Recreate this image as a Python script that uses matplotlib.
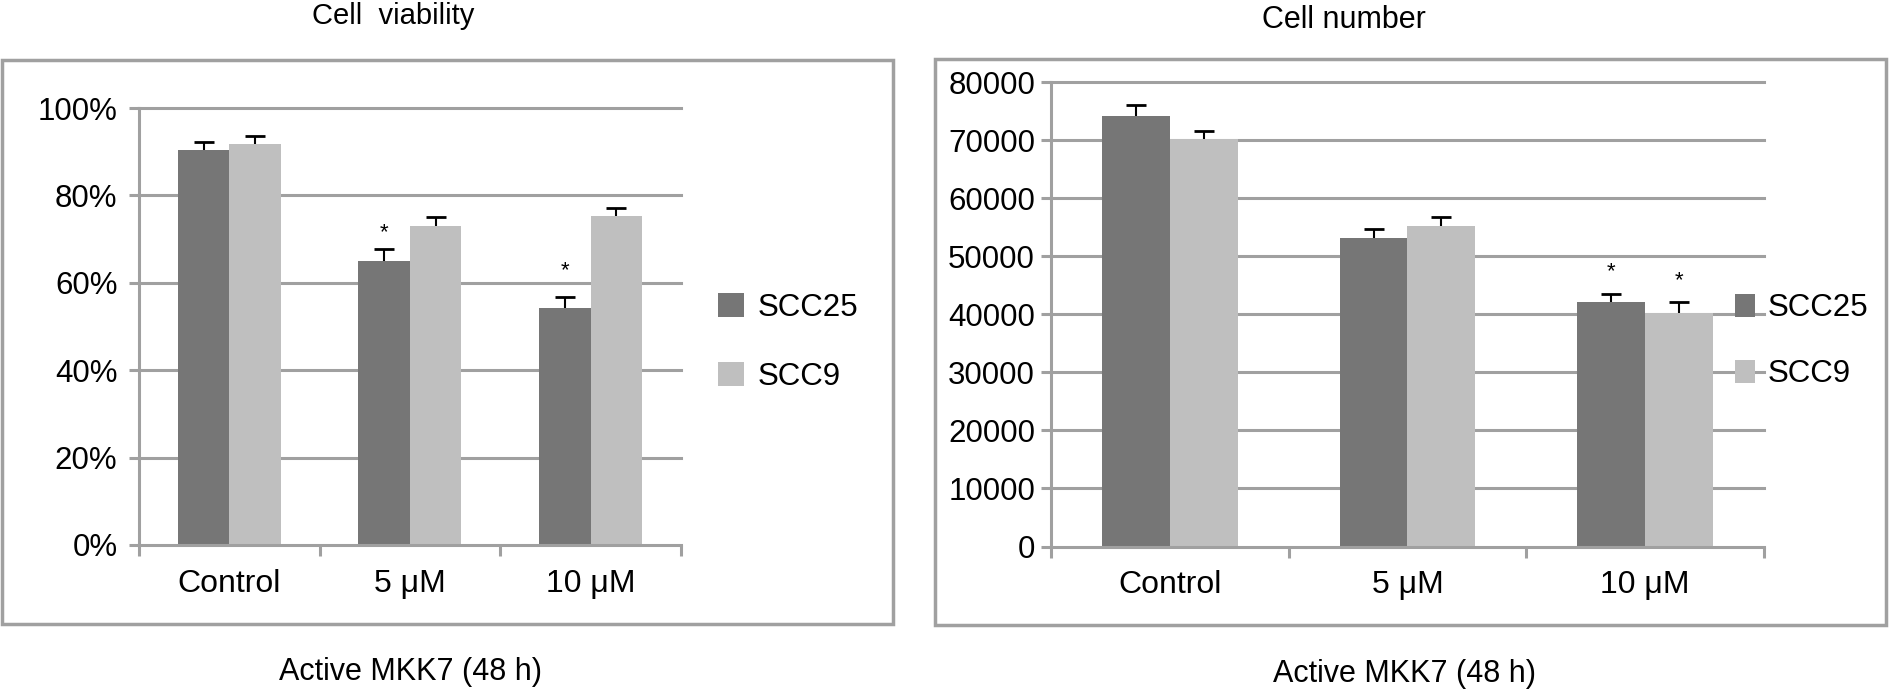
import matplotlib
matplotlib.use('Agg')
import matplotlib.pyplot as plt
import numpy as np
from matplotlib.patches import Rectangle

plt.rcParams['font.family'] = ['Liberation Sans', 'DejaVu Sans']

# data
groups = ['Control', '5 \u03bcM', '10 \u03bcM']
series = ['SCC25', 'SCC9']

# cell viability (%)
viab_scc25 = [90.3, 65.1, 54.3]
viab_scc25_err = [1.9, 2.6, 2.4]
viab_scc9 = [91.8, 73.0, 75.2]
viab_scc9_err = [1.9, 2.1, 1.9]
viab_star_scc25 = [None, 71.5, 62.7]
viab_star_scc9 = [None, None, None]

# cell number
num_scc25 = [74150, 53180, 42160]
num_scc25_err = [1975, 1520, 1370]
num_scc9 = [70180, 55150, 40160]
num_scc9_err = [1370, 1600, 1890]
num_star_scc25 = [None, None, 47330]
num_star_scc9 = [None, None, 45780]

dark = '#767676'
light = '#bfbfbf'
grey = '#a0a0a0'


def upper_err(ax, xs, vals, errs):
    # one sided error bar, cap only on top
    eb = ax.errorbar(xs, vals, yerr=[np.zeros(len(vals)), errs], fmt='none', ecolor='black',
                     elinewidth=1.5, capsize=7, capthick=2, zorder=3)
    caps = eb[1]
    if len(caps) == 2:
        caps[0].set_visible(False)


def draw_panel(ax, a, a_err, b, b_err, a_star, b_star, ymax, ystep, fmt, ypad):
    x = np.arange(len(groups))
    w = 0.285
    ax.bar(x - w/2, a, w, color=dark, label=series[0], zorder=2)
    ax.bar(x + w/2, b, w, color=light, label=series[1], zorder=2)
    upper_err(ax, x - w/2, a, a_err)
    upper_err(ax, x + w/2, b, b_err)
    for i in range(len(groups)):
        if a_star[i] is not None:
            ax.text(x[i] - w/2, a_star[i], '*', ha='center', va='center', fontsize=16)
        if b_star[i] is not None:
            ax.text(x[i] + w/2, b_star[i], '*', ha='center', va='center', fontsize=16)

    ax.set_xlim(-0.5, 2.5)
    ax.set_ylim(0, ymax)
    yt = np.arange(0, ymax + 1, ystep)
    ax.set_yticks(yt)
    ax.set_yticklabels([fmt(v) for v in yt])
    for v in yt[1:]:
        ax.axhline(v, color=grey, linewidth=2.2, zorder=0.5, clip_on=False)

    for s in ['top', 'right']:
        ax.spines[s].set_visible(False)
    for s in ['left', 'bottom']:
        ax.spines[s].set_color(grey)
        ax.spines[s].set_linewidth(2.2)

    ax.set_xticks(x)
    ax.set_xticklabels(groups, fontsize=23)
    ax.set_xticks([-0.5, 0.5, 1.5, 2.5], minor=True)
    ax.tick_params(axis='x', which='major', length=0, pad=17)
    ax.tick_params(axis='x', which='minor', length=8, width=2.2, color=grey)
    ax.tick_params(axis='y', length=7.5, width=2.2, color=grey, labelsize=22.5, pad=ypad)


fig = plt.figure(figsize=(18.9, 6.91), dpi=100)

ax1 = fig.add_axes([0.0735, 0.2113, 0.2868, 0.6324])
draw_panel(ax1, viab_scc25, viab_scc25_err, viab_scc9, viab_scc9_err,
           viab_star_scc25, viab_star_scc9, 100, 20, lambda v: '%d%%' % v, 8)
ax1.legend(loc='center left', bbox_to_anchor=(0.380, 0.505), bbox_transform=fig.transFigure,
           frameon=False, fontsize=22.5, handlelength=0.82, handleheight=0.82,
           handletextpad=0.45, labelspacing=1.25, borderpad=0, borderaxespad=0)

ax2 = fig.add_axes([0.5561, 0.2091, 0.3772, 0.6722])
draw_panel(ax2, num_scc25, num_scc25_err, num_scc9, num_scc9_err,
           num_star_scc25, num_star_scc9, 80000, 10000, lambda v: '%d' % v, 4)
ax2.legend(loc='center left', bbox_to_anchor=(0.918, 0.506), bbox_transform=fig.transFigure,
           frameon=False, fontsize=22.5, handlelength=0.65, handleheight=0.72,
           handletextpad=0.4, labelspacing=1.15, borderpad=0, borderaxespad=0)

# panel frames
fig.patches.append(Rectangle((0.0013, 0.097), 0.4712, 0.8162, transform=fig.transFigure,
                             fill=False, edgecolor=grey, linewidth=2.5))
fig.patches.append(Rectangle((0.4947, 0.0955), 0.5032, 0.8184, transform=fig.transFigure,
                             fill=False, edgecolor=grey, linewidth=2.5))

fig.text(0.208, 0.977, 'Cell  viability', ha='center', va='center', fontsize=21)
fig.text(0.711, 0.971, 'Cell number', ha='center', va='center', fontsize=22)
fig.text(0.217, 0.0275, 'Active MKK7 (48 h)', ha='center', va='center', fontsize=22)
fig.text(0.743, 0.0245, 'Active MKK7 (48 h)', ha='center', va='center', fontsize=22)

fig.savefig('out.png', dpi=100)
